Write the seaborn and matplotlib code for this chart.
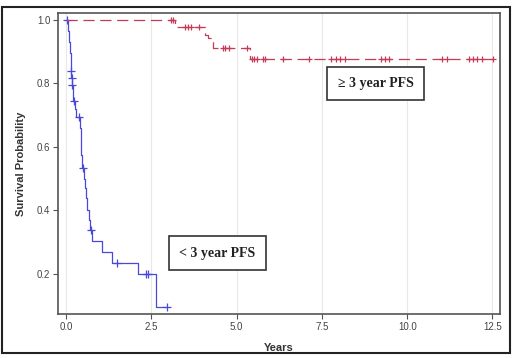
import pandas as pd
import seaborn as sns
import matplotlib.pyplot as plt
from matplotlib.patches import Rectangle

sns.set_theme(style="white")
plt.rcParams['font.family'] = ['Liberation Sans', 'DejaVu Sans']

# Kaplan-Meier step values
# < 3 year PFS (blue, solid)
short_time = [0.00, 0.05, 0.08, 0.11, 0.14, 0.16, 0.18, 0.20, 0.22, 0.26, 0.29,
              0.41, 0.43, 0.45, 0.47, 0.52, 0.56, 0.60, 0.63, 0.67, 0.70,
              0.75, 1.07, 1.34, 2.12, 2.63, 2.95]
short_surv = [1.000, 0.965, 0.930, 0.895, 0.840, 0.816, 0.795, 0.770, 0.746, 0.720, 0.695,
              0.660, 0.620, 0.575, 0.533, 0.500, 0.470, 0.440, 0.400, 0.370, 0.339,
              0.304, 0.268, 0.236, 0.199, 0.097, 0.097]
short_cens_t = [0.02, 0.15, 0.17, 0.19, 0.23, 0.38, 0.49, 0.72, 1.50, 2.34, 2.41, 2.95]
short_cens_s = [1.000, 0.840, 0.816, 0.795, 0.746, 0.695, 0.533, 0.339, 0.236, 0.199, 0.199, 0.097]

# >= 3 year PFS (red, dashed)
long_time = [0.00, 3.20, 4.07, 4.17, 4.32, 5.39, 12.52]
long_surv = [1.000, 0.979, 0.953, 0.942, 0.913, 0.877, 0.877]
long_cens_t = [3.07, 3.13, 3.49, 3.57, 3.66, 3.91, 4.59, 4.67, 4.77, 5.30,
               5.45, 5.52, 5.60, 5.76, 5.83, 6.37, 7.13, 7.76, 7.90, 8.03, 8.18,
               9.22, 9.35, 9.48, 11.01, 11.18, 11.82, 11.94, 12.05, 12.18, 12.52]
long_cens_s = [1.000, 1.000, 0.979, 0.979, 0.979, 0.979, 0.913, 0.913, 0.913, 0.913] + [0.877] * 21

x_ticks = [0.0, 2.5, 5.0, 7.5, 10.0, 12.5]
y_ticks = [0.2, 0.4, 0.6, 0.8, 1.0]

blue = '#4848dc'
red = '#c63a55'

short_df = pd.DataFrame({'Years': short_time, 'Survival': short_surv})
long_df = pd.DataFrame({'Years': long_time, 'Survival': long_surv})
short_c = pd.DataFrame({'Years': short_cens_t, 'Survival': short_cens_s})
long_c = pd.DataFrame({'Years': long_cens_t, 'Survival': long_cens_s})

fig = plt.figure(figsize=(5.2, 3.58), dpi=100)
ax = fig.add_axes([58 / 520, 1 - 314 / 358, 442 / 520, 301 / 358])

sns.lineplot(data=short_df, x='Years', y='Survival', ax=ax, color=blue,
             drawstyle='steps-post', linewidth=0.9)
sns.lineplot(data=long_df, x='Years', y='Survival', ax=ax, color=red,
             drawstyle='steps-post', linewidth=0.9, dashes=False)
ax.lines[-1].set_dashes((9, 4.5))
sns.scatterplot(data=short_c, x='Years', y='Survival', ax=ax, color=blue,
                marker='+', s=30, linewidth=0.9)
sns.scatterplot(data=long_c, x='Years', y='Survival', ax=ax, color=red,
                marker='+', s=25, linewidth=0.9)

ax.set_xlim(-0.234, 12.72)
ax.set_ylim(0.074, 1.022)
ax.set_xticks(x_ticks)
ax.set_xticklabels([f'{t:.1f}' for t in x_ticks])
ax.set_yticks(y_ticks)
ax.set_yticklabels([f'{t:.1f}' for t in y_ticks])
ax.tick_params(axis='both', which='both', direction='out', length=3.5, width=0.8,
               color='#555555', labelsize=7, labelcolor='#444444', pad=2,
               left=True, bottom=True)
ax.grid(axis='x', color='#e8e8e8', linewidth=0.8)
ax.set_axisbelow(True)
for sp in ax.spines.values():
    sp.set_color('#555555')
    sp.set_linewidth(1.2)

ax.set_xlabel('Years', fontsize=8, fontweight='bold', color='#333333', labelpad=8)
ax.set_ylabel('Survival Probability', fontsize=8, fontweight='bold', color='#333333', labelpad=8)

box = dict(boxstyle='square,pad=0.75', facecolor='white', edgecolor='#333333', linewidth=1.2)
ax.text(9.08, 0.80, '\u2265 3 year PFS', fontsize=10, family=['Liberation Serif', 'DejaVu Serif'],
        fontweight='bold', color='#222222', ha='center', va='center', bbox=box)
ax.text(4.43, 0.266, '< 3 year PFS', fontsize=10, family=['Liberation Serif', 'DejaVu Serif'],
        fontweight='bold', color='#222222', ha='center', va='center', bbox=box)

fig.patches.append(Rectangle((2 / 520, 1 - 353 / 358), 508 / 520, 346 / 358,
                             transform=fig.transFigure, fill=False,
                             edgecolor='#222222', linewidth=1.5))

fig.savefig('out.png', dpi=100)
